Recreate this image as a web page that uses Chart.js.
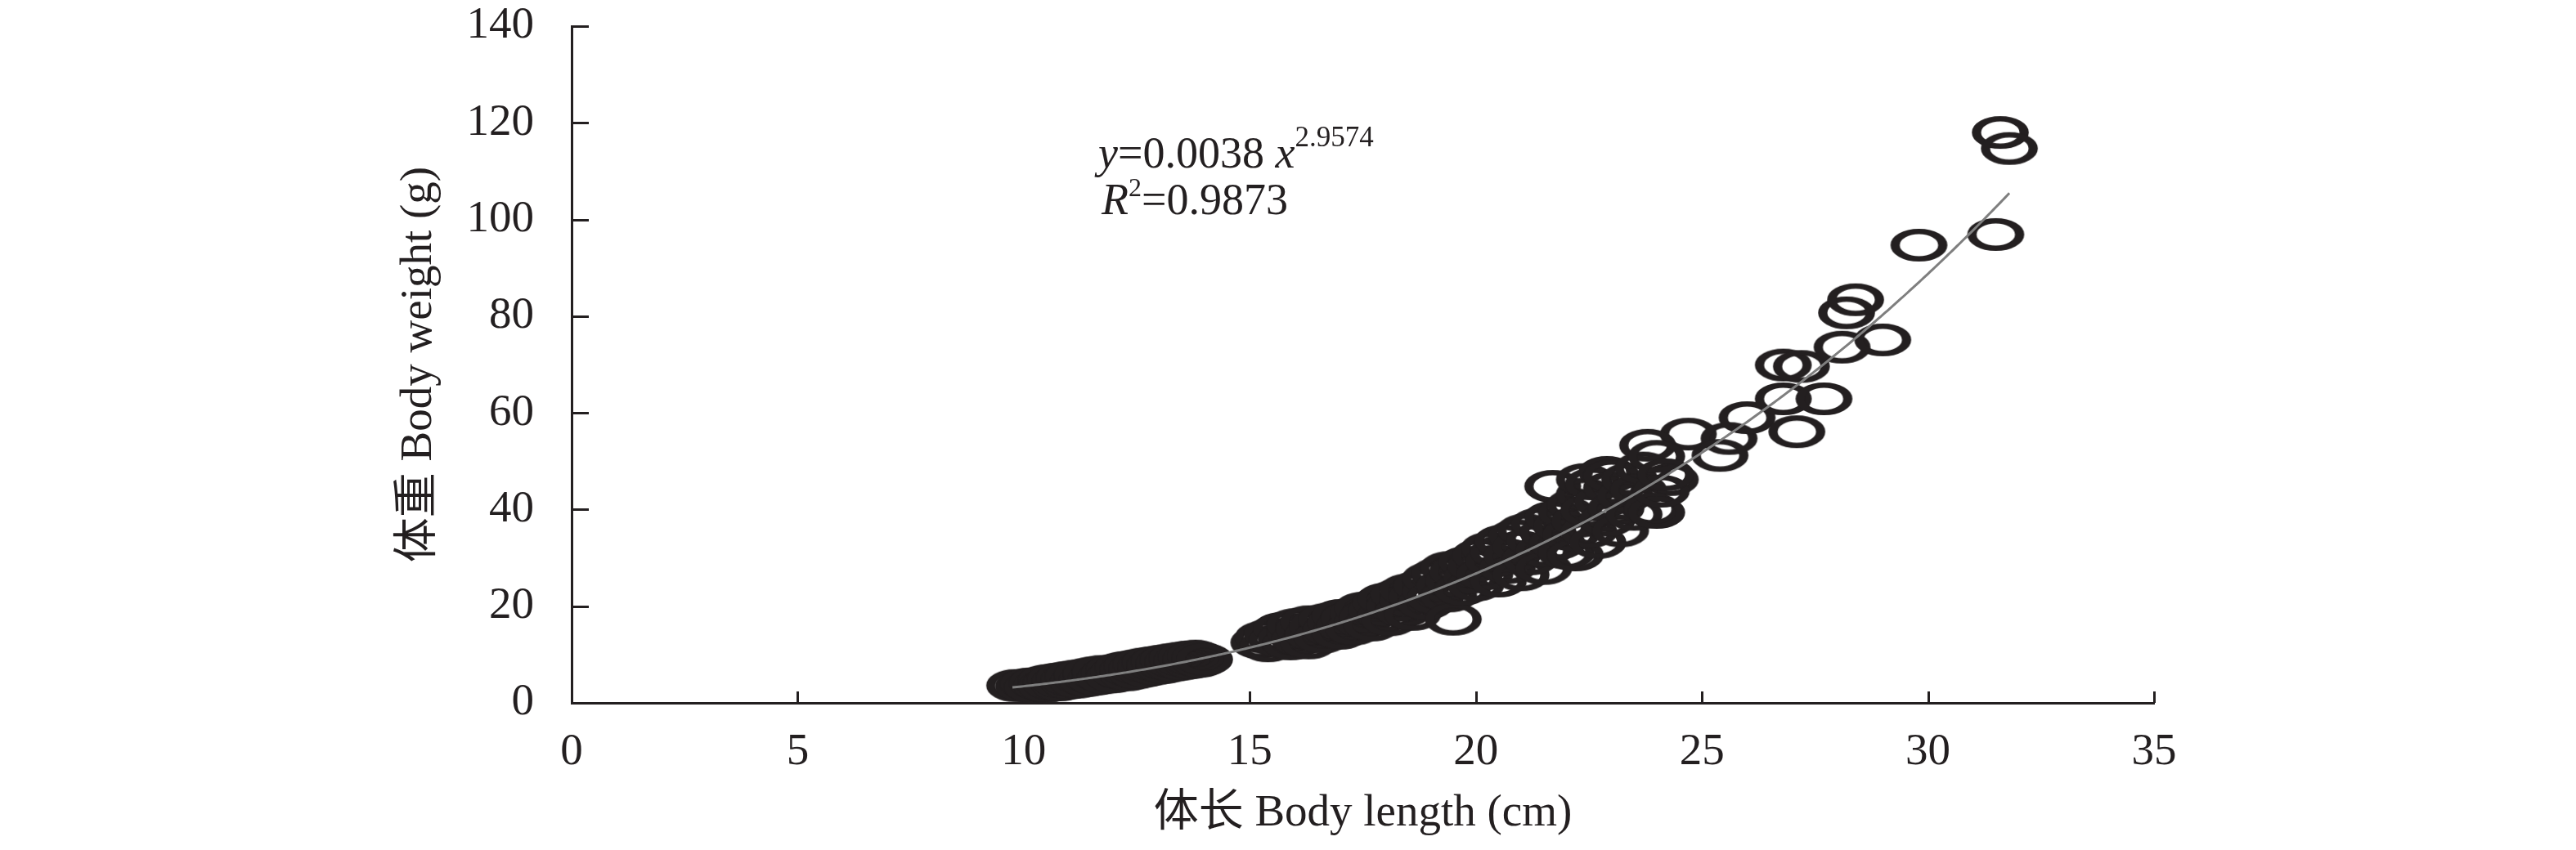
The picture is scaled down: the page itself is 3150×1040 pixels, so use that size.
<!DOCTYPE html>
<html><head><meta charset="utf-8">
<script src="https://cdn.jsdelivr.net/npm/chart.js@4.4.1/dist/chart.umd.min.js"></script>
<style>html,body{margin:0;padding:0;background:#fff;}canvas{display:block;}</style>
</head><body>
<canvas id="c" width="3150" height="1040"></canvas>
<script>
// ---- chart content ----
const xTicks = [0, 5, 10, 15, 20, 25, 30, 35];
const yTicks = [0, 20, 40, 60, 80, 100, 120, 140];
const xTitle = '体长 Body length (cm)';
const yTitle = '体重 Body weight (g)';
const fitA = 0.0038;
const fitB = 2.9574;
const fitR2 = '0.9873';
const fitXRange = [9.75, 31.8];

// [body length (cm), body weight (g)]
const smallFish = [
  [9.8,3.6],[10.0,3.5],[10.1,3.9],[10.2,3.3],[10.3,4.1],[10.4,3.6],[10.5,4.6],[10.5,3.4],[10.6,4.0],[10.7,4.9],
  [10.8,3.7],[10.8,4.4],[10.9,5.2],[11.0,4.1],[11.0,4.8],[11.1,5.5],[11.2,4.3],[11.3,5.0],[11.3,5.8],[11.4,4.6],
  [11.5,5.3],[11.5,6.2],[11.6,4.9],[11.7,5.7],[11.7,6.5],[11.8,5.2],[11.9,6.1],[12.0,6.8],[12.0,5.4],[12.1,6.4],
  [12.2,7.3],[12.3,5.8],[12.3,6.9],[12.4,7.6],[12.5,6.2],[12.5,7.2],[12.6,8.0],[12.7,6.6],[12.7,7.6],[12.8,8.3],
  [12.9,7.0],[12.9,7.9],[13.0,8.6],[13.1,7.3],[13.1,8.2],[13.2,8.9],[13.3,7.7],[13.3,8.5],[13.4,9.2],[13.5,8.0],
  [13.5,8.8],[13.6,9.5],[13.7,8.3],[13.7,9.1],[13.8,9.7],[13.9,8.6],[13.9,9.3],[14.0,9.0]
];
const mediumFish = [
  [15.2,12.5],[15.3,13.6],[15.4,11.8],[15.5,14.3],[15.6,12.9],[15.7,15.4],[15.8,13.3],[15.9,12.2],[16.0,14.6],[16.0,16.2],
  [16.1,13.1],[16.2,15.3],[16.3,12.4],[16.3,16.8],[16.4,14.2],[16.5,15.9],[16.6,13.6],[16.7,17.3],[16.8,15.1],[16.9,16.6],
  [17.0,14.4],[17.0,18.1],[17.1,16.0],[17.2,17.5],[17.3,15.3],[17.4,18.6],[17.5,16.8],[17.5,19.6],[17.6,17.9],[17.7,16.1],
  [17.8,19.2],[17.9,20.8],[18.0,18.0],[18.0,21.5],[18.1,17.2],[18.2,20.1],[18.3,22.4],[18.4,19.0],[18.5,21.2],[18.5,23.4],
  [18.6,18.3],[18.7,22.0],[18.8,24.3],[18.9,20.6],[19.0,23.0],[19.0,25.8],[19.1,21.8],[19.2,26.8],[19.3,24.2],[19.4,22.1],
  [19.4,28.0],[19.5,17.3],[19.5,25.3],[19.6,27.2],[19.7,23.5],[19.8,29.1],[19.9,26.0],[20.0,24.4],[20.0,28.4],[20.1,30.6],
  [20.2,26.7],[20.3,32.0],[20.4,29.3],[20.5,25.2],[20.5,31.2],[20.6,33.5],[20.7,28.0],[20.8,30.4],[20.9,34.6],[21.0,26.5],
  [21.0,32.3],[21.1,35.8],[21.2,29.8],[21.3,33.6],[21.4,37.0],[21.5,31.5],[21.5,27.8],[21.6,35.2],[21.7,44.8],[21.7,38.4],
  [21.8,33.0],[21.9,36.6],[22.0,39.3],[22.0,31.0],[22.1,34.8],[22.2,30.6],[22.2,41.0],[22.3,37.6],[22.4,43.2],[22.4,46.2],
  [22.5,35.4],[22.5,39.8],[22.6,45.3],[22.7,33.2],[22.8,41.6],[22.9,37.8],[22.9,47.7],[23.0,44.5],[23.0,47.0],[23.1,40.2],
  [23.2,35.6],[23.3,42.8],[23.4,46.3],[23.5,39.0],[23.6,44.0],[23.7,48.6],[23.8,53.3],[23.9,40.1],[24.0,51.0],[24.0,39.4],
  [24.1,43.8],[24.2,47.2]
];
const largeFish = [
  [24.3,46.2],[24.7,55.6],[25.6,54.7],[25.4,51.2],[26.0,59.0],[26.8,62.9],[26.8,69.9],[27.2,69.6],[27.1,56.1],[27.7,62.9],
  [28.1,73.6],[28.2,80.7],[28.4,83.4],[29.0,75.1],[29.8,94.7],[31.5,96.9],[31.6,118.0],[31.8,114.7]
];

// ---- styling ----
const INK = '#231f20';
const FIT = '#7f7f7f';
const SERIF = '"Liberation Serif", "Times New Roman", "Noto Sans CJK SC", serif';

function makeRing() {
  const w = 78, h = 46;
  const c = document.createElement('canvas');
  c.width = w; c.height = h;
  const g = c.getContext('2d');
  g.translate(w / 2, h / 2);
  g.scale(1.74, 1);
  g.beginPath();
  g.arc(0, 0, 16.75, 0, Math.PI * 2);
  g.lineWidth = 6.5;
  g.strokeStyle = INK;
  g.stroke();
  return c;
}
const ring = makeRing();

const toPts = arr => arr.map(p => ({ x: p[0], y: p[1] }));
const fitPts = [];
for (let i = 0; ; i++) {
  const xv = fitXRange[0] + i * 0.05;
  if (xv > fitXRange[1]) { fitPts.push({ x: fitXRange[1], y: fitA * Math.pow(fitXRange[1], fitB) }); break; }
  fitPts.push({ x: xv, y: fitA * Math.pow(xv, fitB) });
}

const scatterStyle = {
  type: 'scatter', pointStyle: ring, pointRadius: 20, pointHoverRadius: 20,
  showLine: false, clip: false, order: 1
};

const tickMarks = {
  id: 'tickMarks',
  beforeDatasetsDraw(chart) {
    const { ctx, chartArea: a, scales: { x, y } } = chart;
    ctx.save();
    ctx.strokeStyle = INK; ctx.lineWidth = 3;
    ctx.beginPath();
    x.ticks.forEach(t => { const px = Math.round(x.getPixelForValue(t.value)) + 0.5; ctx.moveTo(px, a.bottom); ctx.lineTo(px, a.bottom - 14); });
    y.ticks.forEach(t => { const py = Math.round(y.getPixelForValue(t.value)) + 0.5; ctx.moveTo(a.left, py); ctx.lineTo(a.left + 21, py); });
    ctx.stroke();
    ctx.restore();
  }
};

function drawRuns(ctx, runs, x0, y0) {
  let x = x0;
  runs.forEach(r => {
    ctx.save();
    ctx.font = (r.italic ? 'italic ' : '') + r.size + 'px ' + SERIF;
    ctx.textBaseline = 'alphabetic';
    ctx.textAlign = 'left';
    ctx.fillStyle = INK;
    ctx.fillText(r.text, x, y0 - (r.raise || 0));
    x += ctx.measureText(r.text).width;
    ctx.restore();
  });
}

const textLayer = {
  id: 'textLayer',
  afterDraw(chart) {
    const { ctx, chartArea: a } = chart;
    ctx.save();
    ctx.fillStyle = INK;
    ctx.font = '55px ' + SERIF;
    ctx.textAlign = 'center';
    ctx.textBaseline = 'alphabetic';
    ctx.fillText(xTitle, (a.left + a.right) / 2, 1010);
    ctx.save();
    ctx.translate(527, (a.top + a.bottom) / 2);
    ctx.rotate(-Math.PI / 2);
    ctx.fillText(yTitle, 0, 0);
    ctx.restore();
    ctx.restore();
    drawRuns(ctx, [
      { text: 'y', italic: true, size: 54 },
      { text: '=' + fitA.toFixed(4) + ' ', size: 54 },
      { text: 'x', italic: true, size: 54 },
      { text: String(fitB), size: 35, raise: 26 }
    ], 1343, 205);
    drawRuns(ctx, [
      { text: 'R', italic: true, size: 54 },
      { text: '2', size: 32, raise: 22 },
      { text: '=' + fitR2, size: 54 }
    ], 1347, 262);
  }
};

new Chart(document.getElementById('c'), {
  type: 'scatter',
  data: {
    datasets: [
      { type: 'line', data: fitPts, borderColor: FIT, borderWidth: 3, pointRadius: 0, fill: false,
        tension: 0, clip: false, order: 0 },
      Object.assign({ data: toPts(smallFish) }, scatterStyle),
      Object.assign({ data: toPts(mediumFish) }, scatterStyle),
      Object.assign({ data: toPts(largeFish) }, scatterStyle)
    ]
  },
  options: {
    responsive: false,
    animation: false,
    events: [],
    layout: { padding: { left: 0, right: 3150 - 2634, top: 32, bottom: 0 } },
    plugins: { legend: { display: false }, tooltip: { enabled: false }, title: { display: false } },
    scales: {
      x: {
        type: 'linear', position: 'bottom', min: xTicks[0], max: xTicks[xTicks.length - 1],
        afterBuildTicks: s => { s.ticks = xTicks.map(v => ({ value: v })); },
        afterFit: s => { s.height = 180; s.paddingLeft = 0; s.paddingRight = 0; },
        grid: { display: false, drawTicks: false },
        border: { display: true, color: INK, width: 3 },
        ticks: { color: INK, font: { family: SERIF, size: 55 }, padding: 28, maxRotation: 0, autoSkip: false },
        title: { display: false }
      },
      y: {
        type: 'linear', position: 'left', min: yTicks[0], max: yTicks[yTicks.length - 1],
        afterBuildTicks: s => { s.ticks = yTicks.map(v => ({ value: v })); },
        afterFit: s => { s.width = 699; s.paddingTop = 0; s.paddingBottom = 0; },
        grid: { display: false, drawTicks: false },
        border: { display: true, color: INK, width: 3 },
        ticks: { color: INK, font: { family: SERIF, size: 55 }, padding: 46, autoSkip: false },
        title: { display: false }
      }
    }
  },
  plugins: [tickMarks, textLayer]
});
</script>
</body></html>
